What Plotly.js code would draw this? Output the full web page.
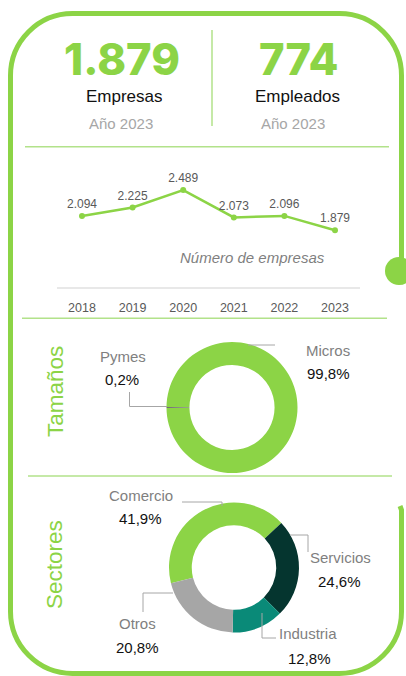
<!DOCTYPE html>
<html><head><meta charset="utf-8">
<script src="https://cdn.plot.ly/plotly-3.0.1.min.js"></script>
<style>html,body{margin:0;padding:0;background:#fff;overflow:hidden}#chart{width:406px;height:676px;}</style>
</head><body><div id="chart"></div>
<script>
// ---------- data ----------
const years = ['2018','2019','2020','2021','2022','2023'];
const empresasSerie = [2094, 2225, 2489, 2073, 2096, 1879];
const kpiValues = [1879, 774];
const kpiLabels = ['Empresas', 'Empleados'];
const kpiYear = 'Año 2023';
const chartCaption = 'Número de empresas';
const sizeLabels = ['Micros', 'Pymes'];
const sizeValues = [99.8, 0.2];
const sectorLabels = ['Comercio', 'Servicios', 'Industria', 'Otros'];
const sectorValues = [41.9, 24.6, 12.8, 20.8];
const sectionTitles = ['Tamaños', 'Sectores'];

// ---------- helpers ----------
const W = 406, H = 676;
const X = x => x / W;
const Y = y => 1 - y / H;
const GREEN = '#8cd446';
const LIGHTGREEN = '#b2e28a';
const GRAYTXT = '#7f7f7f';
const LEADER = '#a6a6a6';
const FONT = 'Liberation Sans, Arial, sans-serif';
const thousands = n => String(n).replace(/\B(?=(\d{3})+(?!\d))/g, '.');
const pct = v => v.toFixed(1).replace('.', ',') + '%';

function ann(text, x, y, size, color, extra) {
  return Object.assign({
    text: text, x: X(x), y: Y(y), xref: 'paper', yref: 'paper',
    showarrow: false, xanchor: 'center', yanchor: 'middle',
    font: {family: FONT, size: size, color: color}
  }, extra || {});
}
function seg(pts, color, width) {
  let d = 'M' + pts.map(p => X(p[0]) + ',' + Y(p[1])).join('L');
  return {type: 'path', xref: 'paper', yref: 'paper', path: d,
          line: {color: color, width: width}};
}

// ---------- traces ----------
const lineTrace = {
  type: 'scatter', mode: 'lines+markers+text',
  x: years, y: empresasSerie,
  xaxis: 'x', yaxis: 'y',
  line: {color: GREEN, width: 2.5},
  marker: {color: GREEN, size: 6},
  texttemplate: '%{y:,.0f}', textposition: 'top center',
  textfont: {family: FONT, size: 12, color: '#595959'},
  cliponaxis: false, hoverinfo: 'skip'
};

const sizeTotal = sizeValues.reduce((a, b) => a + b, 0);
const sizeRot = 270 - 360 * (sizeValues[0] + sizeValues[1] / 2) / sizeTotal + 360;
const pieSize = {
  type: 'pie', labels: sizeLabels, values: sizeValues, sort: false,
  direction: 'clockwise', rotation: sizeRot, hole: 0.65,
  textinfo: 'none', hoverinfo: 'skip',
  marker: {colors: [GREEN, '#6b6b6b'], line: {width: 0}},
  domain: {x: [X(166.5), X(297.5)], y: [Y(473), Y(342)]}
};

const pieSector = {
  type: 'pie', labels: sectorLabels, values: sectorValues, sort: false,
  direction: 'clockwise', rotation: 256, hole: 0.65,
  textinfo: 'none', hoverinfo: 'skip',
  marker: {colors: [GREEN, '#05352f', '#0a8a78', '#a6a6a6'], line: {width: 0}},
  domain: {x: [X(169), X(299)], y: [Y(632.5), Y(502.5)]}
};

// ---------- frame shapes ----------
const L = 10.5, T = 13.5, R = 401.5, B = 673.5, RAD = 62, K = 0.5523 * RAD;
const P = (x, y) => X(x) + ',' + Y(y);
const framePath =
  'M' + P(R, 258) +
  'L' + P(R, T + RAD) +
  'C' + P(R, T + RAD - K) + ' ' + P(R - RAD + K, T) + ' ' + P(R - RAD, T) +
  'L' + P(L + RAD, T) +
  'C' + P(L + RAD - K, T) + ' ' + P(L, T + RAD - K) + ' ' + P(L, T + RAD) +
  'L' + P(L, B - RAD) +
  'C' + P(L, B - RAD + K) + ' ' + P(L + RAD - K, B) + ' ' + P(L + RAD, B) +
  'L' + P(R - RAD, B) +
  'C' + P(R - RAD + K, B) + ' ' + P(R, B - RAD + K) + ' ' + P(R, B - RAD) +
  'L' + P(R, 510) + 'L' + P(R - 1.5, 506);

const shapes = [
  {type: 'path', xref: 'paper', yref: 'paper', path: framePath, line: {color: GREEN, width: 5}},
  {type: 'circle', xref: 'paper', yref: 'paper', x0: X(385), x1: X(413), y0: Y(285), y1: Y(257),
   fillcolor: GREEN, line: {width: 0}},
  seg([[212, 30], [212, 126]], LIGHTGREEN, 1.5),
  seg([[25, 146.7], [389, 146.7]], LIGHTGREEN, 1.5),
  seg([[22, 318.3], [387, 318.3]], LIGHTGREEN, 1.5),
  seg([[28, 476], [392, 476]], LIGHTGREEN, 1.5),
  // leaders: sizes
  seg([[167, 406.5], [129.5, 406.5], [129.5, 392]], LEADER, 1),
  seg([[248, 345], [275, 345]], LEADER, 1),
  // leaders: sectors
  seg([[182, 502], [222, 502], [222, 506]], LEADER, 1),
  seg([[290, 535], [308, 535], [308, 552]], LEADER, 1),
  seg([[262, 613], [262, 638], [276, 638]], LEADER, 1),
  seg([[173, 593], [143, 593], [143, 612]], LEADER, 1)
];

// ---------- annotations ----------
const bigFont = {family: 'Inter, Liberation Sans, Arial, sans-serif', size: 43.5, color: GREEN, weight: 800};
const annotations = [
  ann(thousands(kpiValues[0]), 122, 59, 43.5, GREEN, {font: bigFont, height: 40, valign: 'middle'}),
  ann(thousands(kpiValues[1]), 298, 59, 43.5, GREEN, {font: bigFont, height: 40, valign: 'middle'}),
  ann(kpiLabels[0], 124.5, 95.5, 17, '#111111', {height: 20}),
  ann(kpiLabels[1], 297, 95.5, 17, '#111111', {height: 20}),
  ann(kpiYear, 121, 123.5, 15, '#a6a6a6'),
  ann(kpiYear, 292.5, 123.5, 15, '#a6a6a6'),
  ann(chartCaption, 253, 257.5, 15, GRAYTXT, {font: {family: FONT, size: 15, color: GRAYTXT, style: 'italic'}}),
  ann(sectionTitles[0], 55, 392, 22.5, GREEN, {textangle: -90}),
  ann(sectionTitles[1], 54, 565, 22.5, GREEN, {textangle: -90}),
  ann(sizeLabels[1], 123, 356, 15, GRAYTXT),
  ann(pct(sizeValues[1]), 122, 379, 15, '#111111'),
  ann(sizeLabels[0], 328, 350, 15, GRAYTXT),
  ann(pct(sizeValues[0]), 328, 373, 15, '#111111'),
  ann(sectorLabels[0], 141, 495, 15, GRAYTXT),
  ann(pct(sectorValues[0]), 140.5, 518, 15, '#111111'),
  ann(sectorLabels[1], 340, 557, 15, GRAYTXT),
  ann(pct(sectorValues[1]), 339, 581, 15, '#111111'),
  ann(sectorLabels[2], 308, 633, 15, GRAYTXT),
  ann(pct(sectorValues[2]), 309, 658, 15, '#111111'),
  ann(sectorLabels[3], 137, 623, 15, GRAYTXT),
  ann(pct(sectorValues[3]), 137, 647, 15, '#111111')
];

const layout = {
  width: W, height: H, margin: {l: 0, r: 0, t: 0, b: 0, pad: 0},
  paper_bgcolor: '#ffffff', plot_bgcolor: 'rgba(0,0,0,0)',
  showlegend: false, separators: ',.',
  font: {family: FONT},
  xaxis: {domain: [X(56.7), X(360.3)], type: 'category', range: [-0.5, 5.5],
          showgrid: false, zeroline: false, showline: true, linecolor: '#e8e8e8', linewidth: 1.5,
          ticks: '', ticklabelstandoff: 8, tickfont: {family: FONT, size: 12.5, color: '#595959'},
          fixedrange: true},
  yaxis: {domain: [Y(287.3), Y(150)], range: [1010, 3099], visible: false, fixedrange: true},
  shapes: shapes, annotations: annotations
};

Plotly.newPlot('chart', [lineTrace, pieSize, pieSector], layout, {displayModeBar: false, staticPlot: true});
</script></body></html>
